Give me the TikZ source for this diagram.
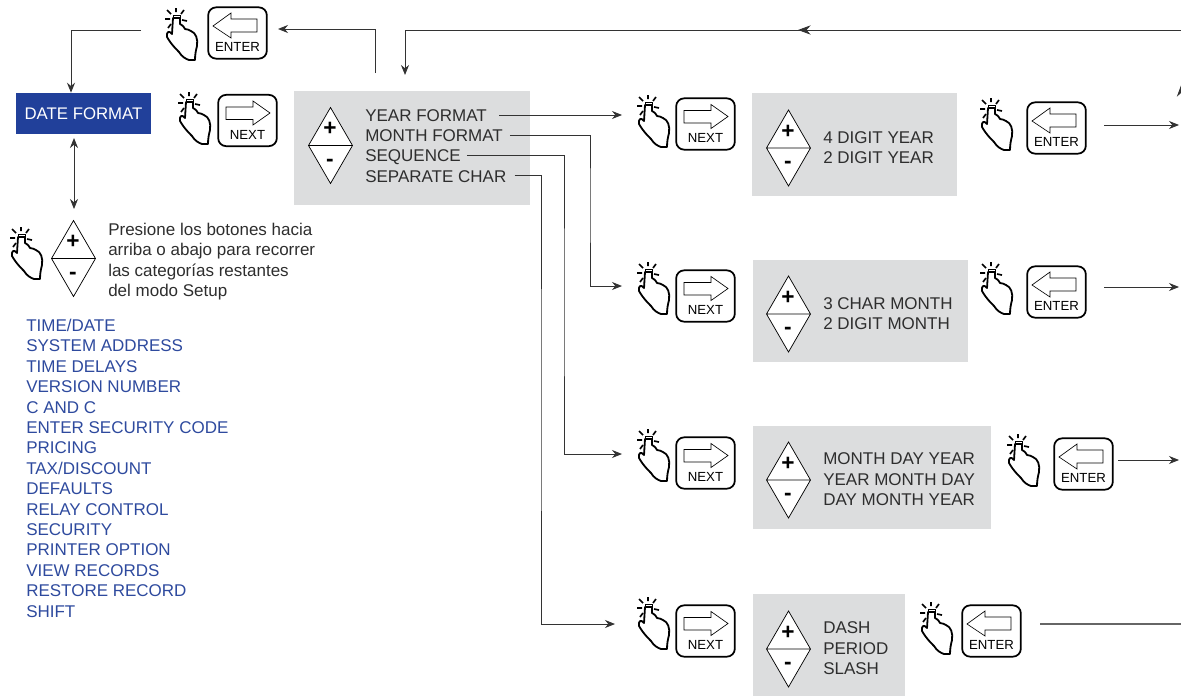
\documentclass[tikz,border=0pt]{standalone}
\usepackage{fontspec}
\setmainfont{Liberation Sans}
\usetikzlibrary{arrows.meta}
\definecolor{panelgray}{HTML}{DCDDDE}
\definecolor{titleblue}{HTML}{21409A}
\definecolor{listblue}{HTML}{2E4A9E}
\definecolor{inkgray}{HTML}{2E2E2E}
\tikzset{
  bodytext/.style={font=\fontsize{12.75}{15.3}\selectfont, text=inkgray, inner sep=0pt, align=left},
  keybox/.style={draw=black, line width=1.3pt, rounded corners=6pt, fill=white, minimum width=44pt, minimum height=38.5pt, inner sep=0pt},
  keytext/.style={font=\fontsize{9.9}{10}\selectfont, inner sep=0pt},
  panel/.style={fill=panelgray, draw=none, inner sep=0pt},
  flow/.style={draw=black!80, line width=0.7pt, -{Stealth[length=7.5pt,width=6pt]}},
  bigflow/.style={draw=black!80, line width=0.7pt, -{Stealth[length=9.5pt,width=7pt]}},
  plainflow/.style={draw=black!60, line width=0.9pt},
  pics/hand/.style={code={
    \draw[line width=1.35pt, line join=round, fill=white] (-3,1) -- (-4,17) .. controls (-7,13) and (-10,15) .. (-9,20)
      .. controls (-5,27) and (-1,31) .. (3,35) .. controls (6,40) and (10,42) .. (13,43) -- (19,43)
      .. controls (19,37) and (20,33) .. (21,29) .. controls (22,22) and (20,16) .. (15,14)
      .. controls (13,12) and (11,13) .. (9,12) .. controls (7,8) and (5,8) .. (4,7) -- (4,1) -- cycle;
    \draw[line width=0.5pt] (-3,1) rectangle (4,-2);
    \draw[line width=1.25pt] (0,-9) -- (0,-5) (-9,-7) -- (-5,-3) (-11,2) -- (-6,2) (-8,11) -- (-5,7) (8,-7) -- (5,-3) (11,4) -- (6,3);
  }},
  pics/nextkey/.style={code={
    \node[keybox] (-box) at (0,0) {};
    \draw[line width=0.5pt] (-21.5,-13.5) -- (5.5,-13.5) -- (5.5,-19.5) -- (22.5,-7.5) -- (5.5,4.5) -- (5.5,-1) -- (-21.5,-1) -- cycle;
    \node[keytext] (-txt) at (0,14) {NEXT};
  }},
  pics/enterkey/.style={code={
    \node[keybox] (-box) at (0,0) {};
    \draw[line width=0.5pt] (19.5,-14) -- (-6.5,-14) -- (-6.5,-20) -- (-24.5,-7) -- (-6.5,5) -- (-6.5,-1) -- (19.5,-1) -- cycle;
    \node[keytext] (-txt) at (0,13.5) {ENTER};
  }},
  pics/updown/.style={code={
    \draw[line width=0.55pt, fill=white] (-22,0) -- (0,-38) -- (22,0) -- (0,38) -- cycle (-22,0) -- (22,0);
    \node[font=\fontsize{17}{17}\bfseries\selectfont, inner sep=0pt] (-plus) at (-0.5,-16.5) {+};
    \node[font=\fontsize{17}{17}\bfseries\selectfont, inner sep=0pt] (-minus) at (-0.5,17) {-};
  }},
}
\begin{document}
\begin{tikzpicture}[x=0.75pt, y=-0.75pt]
\useasboundingbox (0,0) rectangle (1181,696);
\fill[panelgray] (294,91) rectangle (530,205);
\fill[panelgray] (752,93) rectangle (957,196);
\fill[panelgray] (753,260) rectangle (968,362);
\fill[panelgray] (753,426) rectangle (991,529);
\fill[panelgray] (753,594) rectangle (905,696);
\node[fill=titleblue, text=white, font=\fontsize{12.6}{15.3}\selectfont, minimum width=101.25pt, minimum height=30.75pt, inner sep=0pt] (P_title) at (83.5,113.5) {DATE FORMAT};
\pic (P_enter_0) at (237.5,33) {enterkey};
\pic at (176,17) {hand};
\pic (P_next_0) at (247.5,120.5) {nextkey};
\pic at (189,101) {hand};
\pic (P_pm_0) at (330.5,145.5) {updown};
\node[bodytext, anchor=west] (P_year) at (365,116) {YEAR FORMAT};
\node[bodytext, anchor=west] (P_month) at (365,136) {MONTH FORMAT};
\node[bodytext, anchor=west] (P_seq) at (365,157) {SEQUENCE};
\node[bodytext, anchor=west] (P_sep) at (365,177) {SEPARATE CHAR};
\pic at (21,236) {hand};
\pic (P_pm_1) at (73.5,258.5) {updown};
\node[bodytext, anchor=west] (P_help) at (108,261.5) {Presione los botones hacia\\arriba o abajo para recorrer\\las categorías restantes\\del modo Setup};
\node[bodytext, text=listblue, anchor=north west] (P_list) at (26,319) {TIME/DATE\\SYSTEM ADDRESS\\TIME DELAYS\\VERSION NUMBER\\C AND C\\ENTER SECURITY CODE\\PRICING\\TAX/DISCOUNT\\DEFAULTS\\RELAY CONTROL\\SECURITY\\PRINTER OPTION\\VIEW RECORDS\\RESTORE RECORD\\SHIFT};
\pic at (648,104) {hand};
\pic (P_next_1) at (705.5,124) {nextkey};
\pic (P_pm_2) at (788.5,148) {updown};
\node[bodytext, anchor=west] (P_opt_1) at (823,147.5) {4 DIGIT YEAR\\2 DIGIT YEAR};
\pic at (991,107) {hand};
\pic (P_enter_1) at (1056.5,128) {enterkey};
\pic at (648,271) {hand};
\pic (P_next_2) at (705.5,296) {nextkey};
\pic (P_pm_3) at (788.5,314) {updown};
\node[bodytext, anchor=west] (P_opt_2) at (823,313.5) {3 CHAR MONTH\\2 DIGIT MONTH};
\pic at (991,271) {hand};
\pic (P_enter_2) at (1056.5,292) {enterkey};
\pic at (648,438) {hand};
\pic (P_next_3) at (705.5,463) {nextkey};
\pic (P_pm_4) at (788.5,480) {updown};
\node[bodytext, anchor=west] (P_opt_3) at (823,479.5) {MONTH DAY YEAR\\YEAR MONTH DAY\\DAY MONTH YEAR};
\pic at (1018,443) {hand};
\pic (P_enter_3) at (1083.5,464) {enterkey};
\pic at (648,606) {hand};
\pic (P_next_4) at (705.5,631) {nextkey};
\pic (P_pm_5) at (788.5,649) {updown};
\node[bodytext, anchor=west] (P_opt_4) at (823,648.5) {DASH\\PERIOD\\SLASH};
\pic at (931,611) {hand};
\pic (P_enter_4) at (991.5,631) {enterkey};
\coordinate (P_a_0) at (141,30);
\coordinate (P_a_1) at (375,73);
\coordinate (P_a_2) at (278,29);
\coordinate (P_a_3) at (1183,30);
\coordinate (P_a_4) at (405,75);
\coordinate (P_a_5) at (798,30);
\coordinate (P_a_6) at (74,138);
\coordinate (P_a_7) at (74,209);
\coordinate (P_b_1) at (622,115);
\coordinate (P_b_2) at (622,286);
\coordinate (P_b_3) at (622,454);
\coordinate (P_b_4) at (615,624);
\coordinate (P_c_1) at (1104,125);
\coordinate (P_c_2) at (1104,287);
\coordinate (P_c_3) at (1118,460);
\coordinate (P_c_4) at (1040,624);
\coordinate (P_d_1) at (1179,125);
\coordinate (P_d_2) at (1179,287);
\coordinate (P_d_3) at (1179,460);
\coordinate (P_d_4) at (1183,624);
\coordinate (P_e_0) at (1181.5,100);
\coordinate (P_e_1) at (1181.5,84);
\draw[flow] (P_a_0) -- (71,30) -- (P_title.north -| 71,0);
\draw[flow] (P_a_1) |- (P_a_2);
\draw[flow] (P_a_3) -- (405,30) -- (P_a_4);
\draw[bigflow] (P_a_3) -- (P_a_5);
\draw[flow, {Stealth[length=7.5pt,width=6pt]}-{Stealth[length=7.5pt,width=6pt]}] (P_a_6) -- (P_a_7);
\draw[flow] ([xshift=9pt]P_year.north east |- 0,115) -- (P_b_1);
\draw[flow] ([xshift=5pt]P_month.north east |- 0,135) -| (590,200) |- (P_b_2);
\draw[flow] ([xshift=4.5pt]P_seq.north east |- 0,155) -| (564,300) |- (P_b_3);
\draw[flow] ([xshift=6pt]P_sep.north east |- 0,175) -| (541,400) |- (P_b_4);
\draw[flow] (P_c_1) -- (P_d_1);
\draw[flow] (P_c_2) -- (P_d_2);
\draw[flow] (P_c_3) -- (P_d_3);
\draw[plainflow] (P_c_4) -- (P_d_4);
\draw[bigflow] (P_e_0) -- (P_e_1);
\end{tikzpicture}
\end{document}
